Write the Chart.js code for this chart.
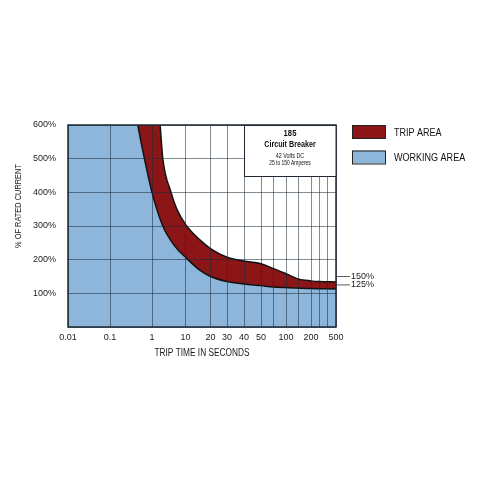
<!DOCTYPE html>
<html lang="en">

<head>
  <meta charset="UTF-8" />
  <title>185 Circuit Breaker - Trip Curve</title>
  <script src="https://cdn.jsdelivr.net/npm/chart.js"></script>
  <style>
    html, body { margin: 0; padding: 0; background: #fff; }
    .chart-box { width: 480px; height: 480px; }
  </style>
</head>

<body>
  <div class="chart-box">
    <canvas id="curvaDisparo"></canvas>
  </div>

  <script>
    // grid lines of the time axis (seconds) and their relative spacing on the printed chart
    const gridSeconds = [0.01, 0.1, 1, 10, 20, 30, 40, 50, 75, 100, 150, 200, 300, 400, 500];
    const gridSpacing = [42, 42, 33.5, 25, 16.5, 17, 17, 12, 13, 12, 13, 8, 8.5, 8.5];
    const labelledSeconds = [0.01, 0.1, 1, 10, 20, 30, 40, 50, 100, 200, 500];
    const currentTicks = [100, 200, 300, 400, 500, 600];

    // working limit (lower edge of the trip band)
    const workSeconds = [0.01, 0.36, 0.46, 0.66, 1, 2.1, 5, 10, 15, 20, 30, 40, 50, 75, 100, 200, 500];
    const workPercent = [680, 680, 600, 500, 400, 300, 238, 207, 168, 150, 135, 128, 123, 119, 117, 114, 113];

    // trip limit (upper edge of the trip band)
    const tripSeconds = [0.01, 1.5, 1.75, 2.1, 3.7, 5.5, 10, 15, 20, 30, 40, 50, 75, 100, 150, 200, 300, 500];
    const tripPercent = [680, 680, 600, 500, 400, 350, 305, 258, 233, 207, 196, 188, 174, 158, 143, 137, 135, 134];

    const limitMarks = [150, 125];
    const legendItems = ['TRIP AREA', 'WORKING AREA'];

    const corVermelho = '#8c1517';
    const corAzul = '#8eb5da';
    const fonte = '"Liberation Sans", Arial, sans-serif';

    // piecewise log scale, like the hand drawn grid of the original sheet
    class TripTimeScale extends Chart.LinearScale {
      determineDataLimits() {
        this.min = gridSeconds[0];
        this.max = gridSeconds[gridSeconds.length - 1];
      }
      buildTicks() {
        return gridSeconds.map(v => ({ value: v }));
      }
      getDecimalForSeconds(value) {
        const total = gridSpacing.reduce((a, b) => a + b, 0);
        let acc = 0;
        for (let i = 0; i < gridSpacing.length; i++) {
          const a = gridSeconds[i];
          const b = gridSeconds[i + 1];
          if (value <= b || i === gridSpacing.length - 1) {
            const f = (Math.log(value) - Math.log(a)) / (Math.log(b) - Math.log(a));
            return (acc + f * gridSpacing[i]) / total;
          }
          acc += gridSpacing[i];
        }
        return 1;
      }
      getPixelForValue(value) {
        return this.getPixelForDecimal(this.getDecimalForSeconds(value));
      }
    }
    TripTimeScale.id = 'tripTime';
    Chart.register(TripTimeScale);

    function pontos(segundos, valores) {
      const lista = [];
      for (let i = 0; i < segundos.length; i++) {
        lista.push({ x: segundos[i], y: valores[i] });
      }
      return lista;
    }

    // condensed text (no narrow font installed, so squeeze it)
    function textoEstreito(ctx, texto, x, y, font, aperto) {
      ctx.save();
      ctx.translate(x, y);
      ctx.scale(aperto, 1);
      ctx.font = font;
      ctx.fillText(texto, 0, 0);
      ctx.restore();
    }

    const extras = {
      id: 'extras',
      afterDraw(chart) {
        const ctx = chart.ctx;
        const area = chart.chartArea;
        const y = chart.scales.y;
        ctx.save();

        // frame of the plot
        ctx.strokeStyle = '#1e2832';
        ctx.lineWidth = 1.5;
        ctx.strokeRect(area.left, area.top, area.right - area.left, area.bottom - area.top);

        // title box
        const bx = 244, bw = area.right - 244, bh = 51;
        ctx.fillStyle = '#fff';
        ctx.fillRect(bx, area.top, bw, bh);
        ctx.lineWidth = 1;
        ctx.strokeRect(bx + 0.5, area.top + 0.5, bw - 0.5, bh);
        const cx = bx + bw / 2;
        ctx.fillStyle = '#111';
        ctx.textAlign = 'center';
        ctx.textBaseline = 'middle';
        textoEstreito(ctx, '185', cx, area.top + 9, 'bold 9px ' + fonte, 0.85);
        textoEstreito(ctx, 'Circuit Breaker', cx, area.top + 20, 'bold 9px ' + fonte, 0.8);
        textoEstreito(ctx, '42 Volts DC', cx, area.top + 31, '6.3px ' + fonte, 0.85);
        textoEstreito(ctx, '25 to 150 Amperes', cx, area.top + 38.5, '6.3px ' + fonte, 0.78);

        // 150% / 125% marks on the right edge
        ctx.textAlign = 'left';
        ctx.font = '9px ' + fonte;
        ctx.strokeStyle = '#333';
        ctx.lineWidth = 0.8;
        for (let i = 0; i < limitMarks.length; i++) {
          const py = y.getPixelForValue(limitMarks[i]);
          ctx.beginPath();
          ctx.moveTo(area.right + 1, py);
          ctx.lineTo(area.right + 14, py);
          ctx.stroke();
          ctx.fillStyle = '#222';
          ctx.fillText(limitMarks[i] + '%', area.right + 15, py);
        }

        // legend
        const cores = [corVermelho, corAzul];
        for (let i = 0; i < legendItems.length; i++) {
          const ly = area.top + i * 25.5;
          ctx.fillStyle = cores[i];
          ctx.fillRect(352, ly, 33, 13);
          ctx.strokeStyle = '#222';
          ctx.lineWidth = 1;
          ctx.strokeRect(352.5, ly + 0.5, 33, 13);
          ctx.fillStyle = '#111';
          textoEstreito(ctx, legendItems[i], 394, ly + 7.5, '11px ' + fonte, 0.82);
        }

        // axis titles
        ctx.fillStyle = '#1a1a1a';
        ctx.textAlign = 'center';
        textoEstreito(ctx, 'TRIP TIME IN SECONDS', (area.left + area.right) / 2, 353, '10px ' + fonte, 0.83);
        ctx.translate(18, 206);
        ctx.rotate(-Math.PI / 2);
        textoEstreito(ctx, '% OF RATED CURRENT', 0, 0, '9.5px ' + fonte, 0.78);
        ctx.restore();
      }
    };

    const gradeCor = 'rgba(28, 42, 58, 0.55)';

    new Chart(document.getElementById('curvaDisparo').getContext('2d'), {
      type: 'line',
      data: {
        datasets: [
          {
            label: 'WORKING AREA',
            data: pontos(workSeconds, workPercent),
            borderColor: '#111',
            borderWidth: 1.5,
            backgroundColor: corAzul,
            fill: 'origin',
            pointRadius: 0,
            cubicInterpolationMode: 'monotone'
          },
          {
            label: 'TRIP AREA',
            data: pontos(tripSeconds, tripPercent),
            borderColor: '#111',
            borderWidth: 1.5,
            backgroundColor: corVermelho,
            fill: '-1',
            pointRadius: 0,
            cubicInterpolationMode: 'monotone'
          }
        ]
      },
      options: {
        responsive: true,
        maintainAspectRatio: false,
        animation: false,
        events: [],
        layout: {
          padding: { left: 0, top: 125, right: 144, bottom: 117 }
        },
        plugins: {
          legend: { display: false },
          tooltip: { enabled: false }
        },
        scales: {
          x: {
            type: 'tripTime',
            afterFit: s => { s.height = 36; },
            grid: { color: gradeCor, lineWidth: 1, drawTicks: false, z: 1 },
            border: { display: false },
            ticks: {
              autoSkip: false,
              maxRotation: 0,
              padding: 5,
              color: '#222',
              font: { family: fonte, size: 9 },
              callback: v => labelledSeconds.includes(v) ? String(v) : ''
            }
          },
          y: {
            min: 0,
            max: 600,
            afterFit: s => { s.width = 68; },
            afterBuildTicks: s => { s.ticks = [{ value: 0 }].concat(currentTicks.map(v => ({ value: v }))); },
            grid: { color: gradeCor, lineWidth: 1, drawTicks: false, z: 1 },
            border: { display: false },
            ticks: {
              padding: 12,
              color: '#222',
              font: { family: fonte, size: 9 },
              callback: v => v === 0 ? '' : v + '%'
            }
          }
        }
      },
      plugins: [extras]
    });
  </script>
</body>

</html>
